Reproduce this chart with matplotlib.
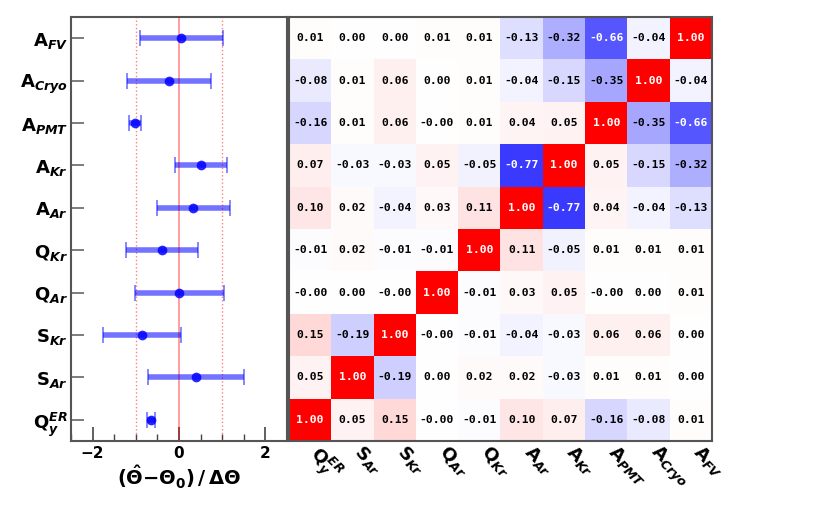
import numpy as np
import matplotlib
matplotlib.use("Agg")
import matplotlib.pyplot as plt
import matplotlib.transforms as mtransforms
from matplotlib.ticker import MultipleLocator

plt.rcParams['mathtext.fontset'] = 'custom'
plt.rcParams['mathtext.rm'] = 'DejaVu Sans:bold'
plt.rcParams['mathtext.it'] = 'DejaVu Sans:italic:bold'
plt.rcParams['mathtext.bf'] = 'DejaVu Sans:bold'
plt.rcParams['font.weight'] = 'bold'

# parameters, bottom to top (same order as matrix columns)
labels = [r'$\mathrm{Q}_{y}^{ER}$', r'$\mathrm{S}_{Ar}$', r'$\mathrm{S}_{Kr}$',
          r'$\mathrm{Q}_{Ar}$', r'$\mathrm{Q}_{Kr}$', r'$\mathrm{A}_{Ar}$',
          r'$\mathrm{A}_{Kr}$', r'$\mathrm{A}_{PMT}$', r'$\mathrm{A}_{Cryo}$',
          r'$\mathrm{A}_{FV}$']

# pulls and errors
pull = [-0.64, 0.40, -0.85, 0.01, -0.39, 0.33, 0.51, -1.02, -0.23, 0.05]
pull_err = [0.09, 1.11, 0.90, 1.03, 0.84, 0.85, 0.60, 0.13, 0.97, 0.96]

# correlation matrix, rows listed top (A_FV) to bottom (Qy)
corr_rows = [
    [0.01, 0.00, 0.00, 0.01, 0.01, -0.13, -0.32, -0.66, -0.04, 1.00],
    [-0.08, 0.01, 0.06, 0.00, 0.01, -0.04, -0.15, -0.35, 1.00, -0.04],
    [-0.16, 0.01, 0.06, -0.00, 0.01, 0.04, 0.05, 1.00, -0.35, -0.66],
    [0.07, -0.03, -0.03, 0.05, -0.05, -0.77, 1.00, 0.05, -0.15, -0.32],
    [0.10, 0.02, -0.04, 0.03, 0.11, 1.00, -0.77, 0.04, -0.04, -0.13],
    [-0.01, 0.02, -0.01, -0.01, 1.00, 0.11, -0.05, 0.01, 0.01, 0.01],
    [-0.00, 0.00, -0.00, 1.00, -0.01, 0.03, 0.05, -0.00, 0.00, 0.01],
    [0.15, -0.19, 1.00, -0.00, -0.01, -0.04, -0.03, 0.06, 0.06, 0.00],
    [0.05, 1.00, -0.19, 0.00, 0.02, 0.02, -0.03, 0.01, 0.01, 0.00],
    [1.00, 0.05, 0.15, -0.00, -0.01, 0.10, 0.07, -0.16, -0.08, 0.01],
]
corr = np.array(corr_rows[::-1])  # row 0 = Qy at bottom

n = len(labels)
ypos = np.arange(n)

fig = plt.figure(figsize=(8.3, 5.13), dpi=100)
ax1 = fig.add_axes([71/830, 1-440.7/513, 216/830, 423.4/513])
ax2 = fig.add_axes([289/830, 1-440.7/513, 423/830, 423.4/513])

# pull panel
ax1.axvline(0, color='red', alpha=0.45, lw=1.2)
ax1.axvline(-1, color='red', alpha=0.5, lw=1.0, ls=':')
ax1.axvline(1, color='red', alpha=0.5, lw=1.0, ls=':')
ax1.errorbar(pull, ypos, xerr=pull_err, fmt='none', ecolor='blue', alpha=0.55,
             elinewidth=4, capsize=5.5, capthick=1.2)
ax1.plot(pull, ypos, 'o', color='blue', ms=7, alpha=0.85, mec='none')
ax1.set_xlim(-2.5, 2.5)
ax1.set_ylim(-0.5, n-0.5)
ax1.set_yticks(ypos)
ax1.set_yticklabels(labels, fontsize=13)
ax1.set_xticks([-2, 0, 2])
ax1.set_xticklabels(['\u22122', '0', '2'], fontsize=11, fontweight='bold')
ax1.xaxis.set_minor_locator(MultipleLocator(0.5))
ax1.tick_params(axis='x', which='major', direction='in', length=10, width=1.2, color='#444444')
ax1.tick_params(axis='x', which='minor', direction='in', length=5, width=1.0, color='#444444')
ax1.tick_params(axis='y', which='major', direction='in', length=9, width=1.2, color='#666666', pad=2)
ax1.set_xlabel(r'$(\hat{\Theta}\mathrm{-}\Theta_{0})\,/\,\Delta\Theta$', fontsize=14, labelpad=2)
for s in ax1.spines.values():
    s.set_color('#555555')
    s.set_linewidth(1.5)

# correlation panel
ax2.imshow(corr, cmap='bwr', vmin=-1, vmax=1, origin='lower', aspect='auto',
           interpolation='nearest', extent=(-0.5, n-0.5, -0.5, n-0.5))
for i in range(n):
    for j in range(n):
        v = corr[i, j]
        txt = '%.2f' % v
        if txt == '0.00' and str(v).startswith('-'):
            txt = '-0.00'
        ax2.text(j, i, txt, ha='center', va='center',
                 fontsize=8.2, family='DejaVu Sans Mono', fontweight='bold',
                 color='white' if abs(v) > 0.5 else 'black')
ax2.set_xlim(-0.5, n-0.5)
ax2.set_ylim(-0.5, n-0.5)
ax2.set_yticks([])
ax2.set_xticks(ypos)
ax2.set_xticklabels(labels, fontsize=13, rotation=-45, ha='left', va='top',
                    rotation_mode='anchor')
ax2.tick_params(axis='x', length=0, pad=1)
shift = mtransforms.ScaledTranslation(12/100, 0, fig.dpi_scale_trans)
for lab in ax2.get_xticklabels():
    lab.set_transform(lab.get_transform() + shift)
for s in ax2.spines.values():
    s.set_color('#555555')
    s.set_linewidth(1.5)

fig.savefig('out.png', dpi=100)
